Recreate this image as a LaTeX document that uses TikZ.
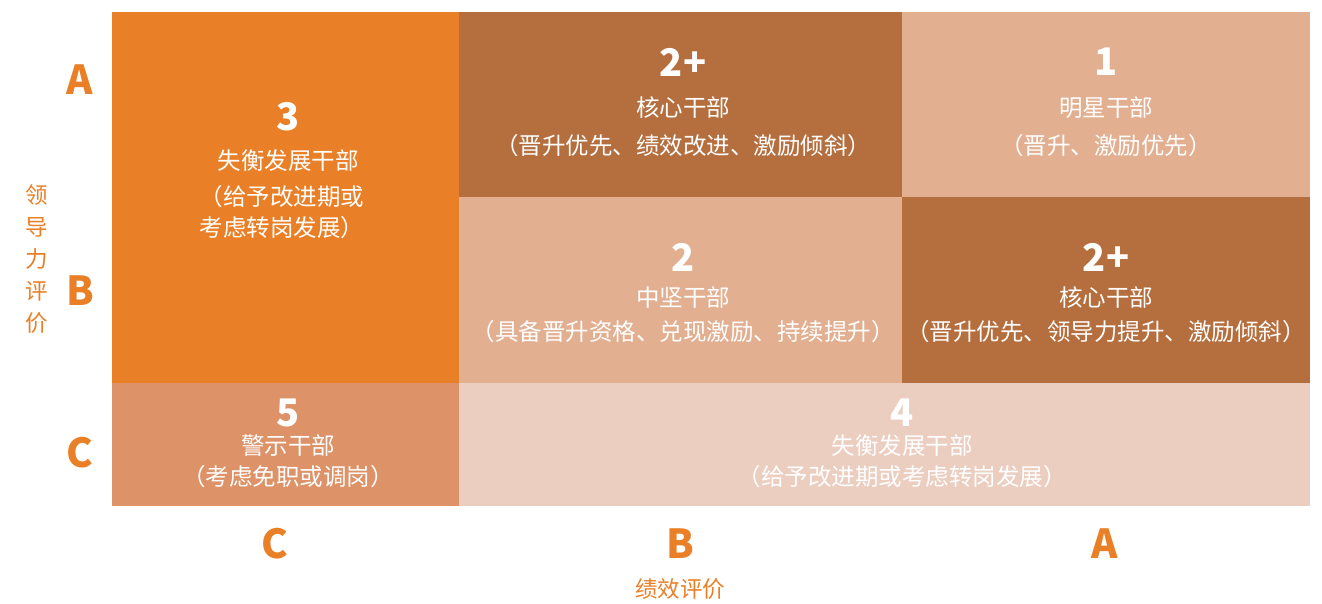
\documentclass[tikz,border=0pt]{standalone}
\usepackage{fontspec}
\newfontfamily\cjk{Noto Sans CJK SC}
\definecolor{cOrange}{HTML}{E97F26}
\definecolor{cBrown}{HTML}{B56E3E}
\definecolor{cPeach}{HTML}{E3AF91}
\definecolor{cCC}{HTML}{DD9267}
\definecolor{cPale}{HTML}{EBCEC0}
\tikzset{
  num/.style={text=white, inner sep=0pt, font=\cjk\bfseries\fontsize{38}{40}\selectfont},
  ttl/.style={text=white, inner sep=0pt, font=\cjk\fontsize{23.5}{26}\selectfont},
  sub/.style={text=white, inner sep=0pt, font=\cjk\fontsize{23.5}{26}\selectfont},
  axl/.style={text=cOrange, inner sep=0pt, font=\cjk\bfseries\fontsize{40}{44}\selectfont},
  axt/.style={text=cOrange, inner sep=0pt, font=\cjk\fontsize{22.5}{32}\selectfont, align=center},
}
\begin{document}
\begin{tikzpicture}[x=1pt,y=-1pt]
\useasboundingbox (0,0) rectangle (1322,604);
% cells
\fill[cOrange] (112,12) rectangle (459,383);
\fill[cBrown] (459,12) rectangle (902,197);
\fill[cPeach] (902,12) rectangle (1310,197);
\fill[cPeach] (459,197) rectangle (902,383);
\fill[cBrown] (902,197) rectangle (1310,383);
\fill[cCC] (112,383) rectangle (459,506);
\fill[cPale] (459,383) rectangle (1310,506);
% cell 3
\node[num] (n3) at (288,117) {3};
\node[ttl] (t3) at (288,161) {失衡发展干部};
\node[sub] (s3a) at (282,197) {（给予改进期或};
\node[sub] (s3b) at (282,228) {考虑转岗发展）};
% cell 2+ top
\node[num] (n2pa) at (683,62) {2+};
\node[ttl] (t2pa) at (683,108) {核心干部};
\node[sub] (s2pa) at (683,146) {（晋升优先、绩效改进、激励倾斜）};
% cell 1
\node[num] (n1) at (1106,62) {1};
\node[ttl] (t1) at (1106,108) {明星干部};
\node[sub] (s1) at (1106,146) {（晋升、激励优先）};
% cell 2
\node[num] (n2) at (683,257) {2};
\node[ttl] (t2) at (683,298) {中坚干部};
\node[sub] (s2) at (683,332) {（具备晋升资格、兑现激励、持续提升）};
% cell 2+ right
\node[num] (n2pb) at (1106,257) {2+};
\node[ttl] (t2pb) at (1106,298) {核心干部};
\node[sub] (s2pb) at (1106,332) {（晋升优先、领导力提升、激励倾斜）};
% cell 5
\node[num] (n5) at (288,413) {5};
\node[ttl] (t5) at (288,446) {警示干部};
\node[sub] (s5) at (288,477) {（考虑免职或调岗）};
% cell 4
\node[num] (n4) at (902,413) {4};
\node[ttl] (t4) at (902,446) {失衡发展干部};
\node[sub] (s4) at (902,477) {（给予改进期或考虑转岗发展）};
% axes
\node[axl] (yA) at (80,80) {A};
\node[axl] (yB) at (80,291) {B};
\node[axl] (yC) at (80,453) {C};
\node[axl] (xC) at (275,544) {C};
\node[axl] (xB) at (680,544) {B};
\node[axl] (xA) at (1105,544) {A};
\node[axt] (ylab) at (37,259) {领\\导\\力\\评\\价};
\node[axt] (xlab) at (680,589) {绩效评价};
\end{tikzpicture}
\end{document}
